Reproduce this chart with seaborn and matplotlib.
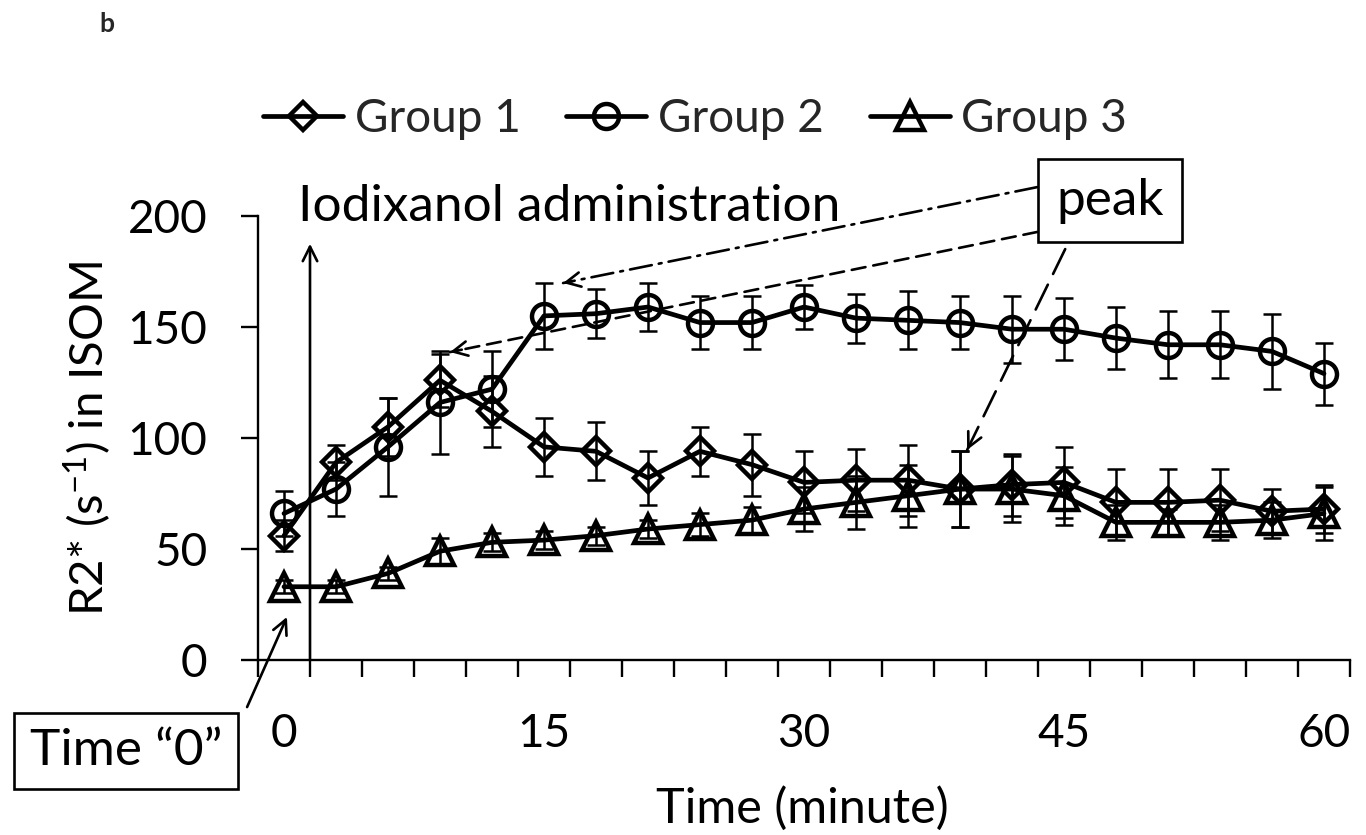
import matplotlib
matplotlib.use("Agg")
import matplotlib.pyplot as plt
import seaborn as sns

# ---------------- data ----------------
times = [0, 3, 6, 9, 12, 15, 18, 21, 24, 27, 30, 33, 36, 39, 42, 45, 48, 51, 54, 57, 60]
group_names = ["Group 1", "Group 2", "Group 3"]

g1_mean = [56, 89, 105, 126, 112, 96, 94, 82, 94, 88, 80, 81, 81, 77, 79, 80, 71, 71, 72, 67, 68]
g1_err = [7, 8, 13, 12, 16, 13, 13, 12, 11, 14, 14, 14, 16, 17, 14, 16, 15, 15, 14, 10, 11]

g2_mean = [66, 77, 96, 116, 122, 155, 156, 159, 152, 152, 159, 154, 153, 152, 149, 149, 145, 142, 142, 139, 129]
g2_err = [10, 12, 22, 23, 17, 15, 11, 11, 12, 12, 10, 11, 13, 12, 15, 14, 14, 15, 15, 17, 14]

g3_mean = [33, 33, 39, 49, 53, 54, 56, 59, 61, 63, 68, 71, 74, 77, 77, 74, 62, 62, 62, 63, 66]
g3_err = [3, 3, 3, 6, 4, 4, 4, 4, 5, 6, 10, 12, 14, 17, 15, 13, 8, 6, 8, 8, 12]

x_tick_values = [0, 15, 30, 45, 60]
x_tick_labels = ["0", "15", "30", "45", "60"]
y_ticks = [0, 50, 100, 150, 200]

# ---------------- style ----------------
sns.set_style("ticks")
plt.rcParams["font.family"] = ["Lato", "DejaVu Sans"]
plt.rcParams["mathtext.fontset"] = "custom"
plt.rcParams["mathtext.rm"] = "Lato"
plt.rcParams["mathtext.it"] = "Lato:italic"
plt.rcParams["mathtext.bf"] = "Lato:bold"

fig = plt.figure(figsize=(13.66, 8.35), dpi=100)
ax = fig.add_axes([258 / 1366, 1 - 660 / 835, 1092 / 1366, 444 / 835])

means = [g1_mean, g2_mean, g3_mean]
errs = [g1_err, g2_err, g3_err]
markers = ["D", "o", "^"]
msizes = [14.5, 18, 19.5]

handles = []
for i in range(3):
    ax.errorbar(times, means[i], yerr=errs[i], fmt="none", ecolor="black",
                elinewidth=1.8, capsize=6.5, capthick=1.8, zorder=2 + 2 * i)
    sns.lineplot(x=times, y=means[i], ax=ax, color="black", lw=3.4,
                 marker=markers[i], markersize=msizes[i], mfc="none",
                 mec="black", mew=3.2, zorder=3 + 2 * i, legend=False)
    handles.append(ax.lines[-1])

# axes limits / ticks
ax.set_xlim(-1.5, 61.5)
ax.set_ylim(0, 200)
ax.set_yticks(y_ticks)
ax.set_xticks(x_tick_values)
ax.set_xticklabels(x_tick_labels)
ax.set_xticks([t - 1.5 for t in times] + [times[-1] + 1.5], minor=True)

sns.despine(ax=ax)
for s in ["left", "bottom"]:
    ax.spines[s].set_linewidth(1.7)
    ax.spines[s].set_color("black")

ax.tick_params(axis="y", which="major", length=12.5, width=1.7, direction="out",
               pad=24, labelsize=33, colors="black")
ax.tick_params(axis="x", which="major", length=0, pad=38, labelsize=33, colors="black")
ax.tick_params(axis="x", which="minor", length=12.5, width=1.7, direction="out", color="black")

ax.set_xlabel("Time (minute)", fontsize=35, color="black")
ax.xaxis.label.set_va("center")
ax.xaxis.set_label_coords((802 - 258) / 1092, (660 - 808) / 444)
ax.set_ylabel(r"R2* (s$^{\mathrm{-1}}$) in ISOM", fontsize=34, color="black")
ax.yaxis.label.set_va("center")
ax.yaxis.set_label_coords((88 - 258) / 1092, 0.5)

# legend
fig.legend(handles, group_names, loc="center", bbox_to_anchor=(695 / 1366, 1 - 119 / 835),
           ncol=3, frameon=False, fontsize=33, handlelength=1.75, handletextpad=0.25,
           columnspacing=1.0, borderaxespad=0, borderpad=0)

# panel letter
fig.text(107 / 1366, 1 - 24 / 835, "b", fontsize=19, fontweight="bold", ha="center", va="center")

# ---------------- annotations ----------------
head = dict(arrowstyle="->", lw=1.9, color="black", mutation_scale=26, shrinkA=0, shrinkB=0)

# iodixanol administration vertical arrow
ax.annotate("", xy=(1.5, 187.5), xytext=(1.5, 0), arrowprops=head, annotation_clip=False)
ax.text(0.8, 197.7, "Iodixanol administration", fontsize=37, ha="left", va="baseline",
        color="black", clip_on=False)

# peak box
ax.text(47.66, 206.8, "peak", fontsize=37, ha="center", va="center", color="black",
        clip_on=False,
        bbox=dict(boxstyle="square,pad=0.36", fc="white", ec="black", lw=1.9))


def dashed_arrow(start, end, ls):
    ax.annotate("", xy=end, xytext=start,
                arrowprops=dict(arrowstyle="-", lw=1.9, color="black", linestyle=ls,
                                shrinkA=0, shrinkB=0),
                annotation_clip=False)
    dx = (start[0] - end[0]) * 0.02
    dy = (start[1] - end[1]) * 0.02
    ax.annotate("", xy=end, xytext=(end[0] + dx, end[1] + dy), arrowprops=head,
                annotation_clip=False)


dashed_arrow((43.45, 213.0), (16.1, 169.8), (0, (8.4, 2.7, 1.1, 2.7)))
dashed_arrow((43.45, 192.8), (9.58, 138.7), (0, (5.3, 3.0)))
dashed_arrow((45.07, 185.1), (39.41, 94.6), (0, (10.5, 4.5)))

# Time "0" box
ax.text(-9.12, -41.0, "Time \u201c0\u201d", fontsize=37, ha="center", va="center",
        color="black", clip_on=False,
        bbox=dict(boxstyle="square,pad=0.3", fc="white", ec="black", lw=1.9))
ax.annotate("", xy=(0.17, 19.4), xytext=(-2.13, -21.2), arrowprops=head,
            annotation_clip=False)

fig.savefig("out.png", dpi=100)
